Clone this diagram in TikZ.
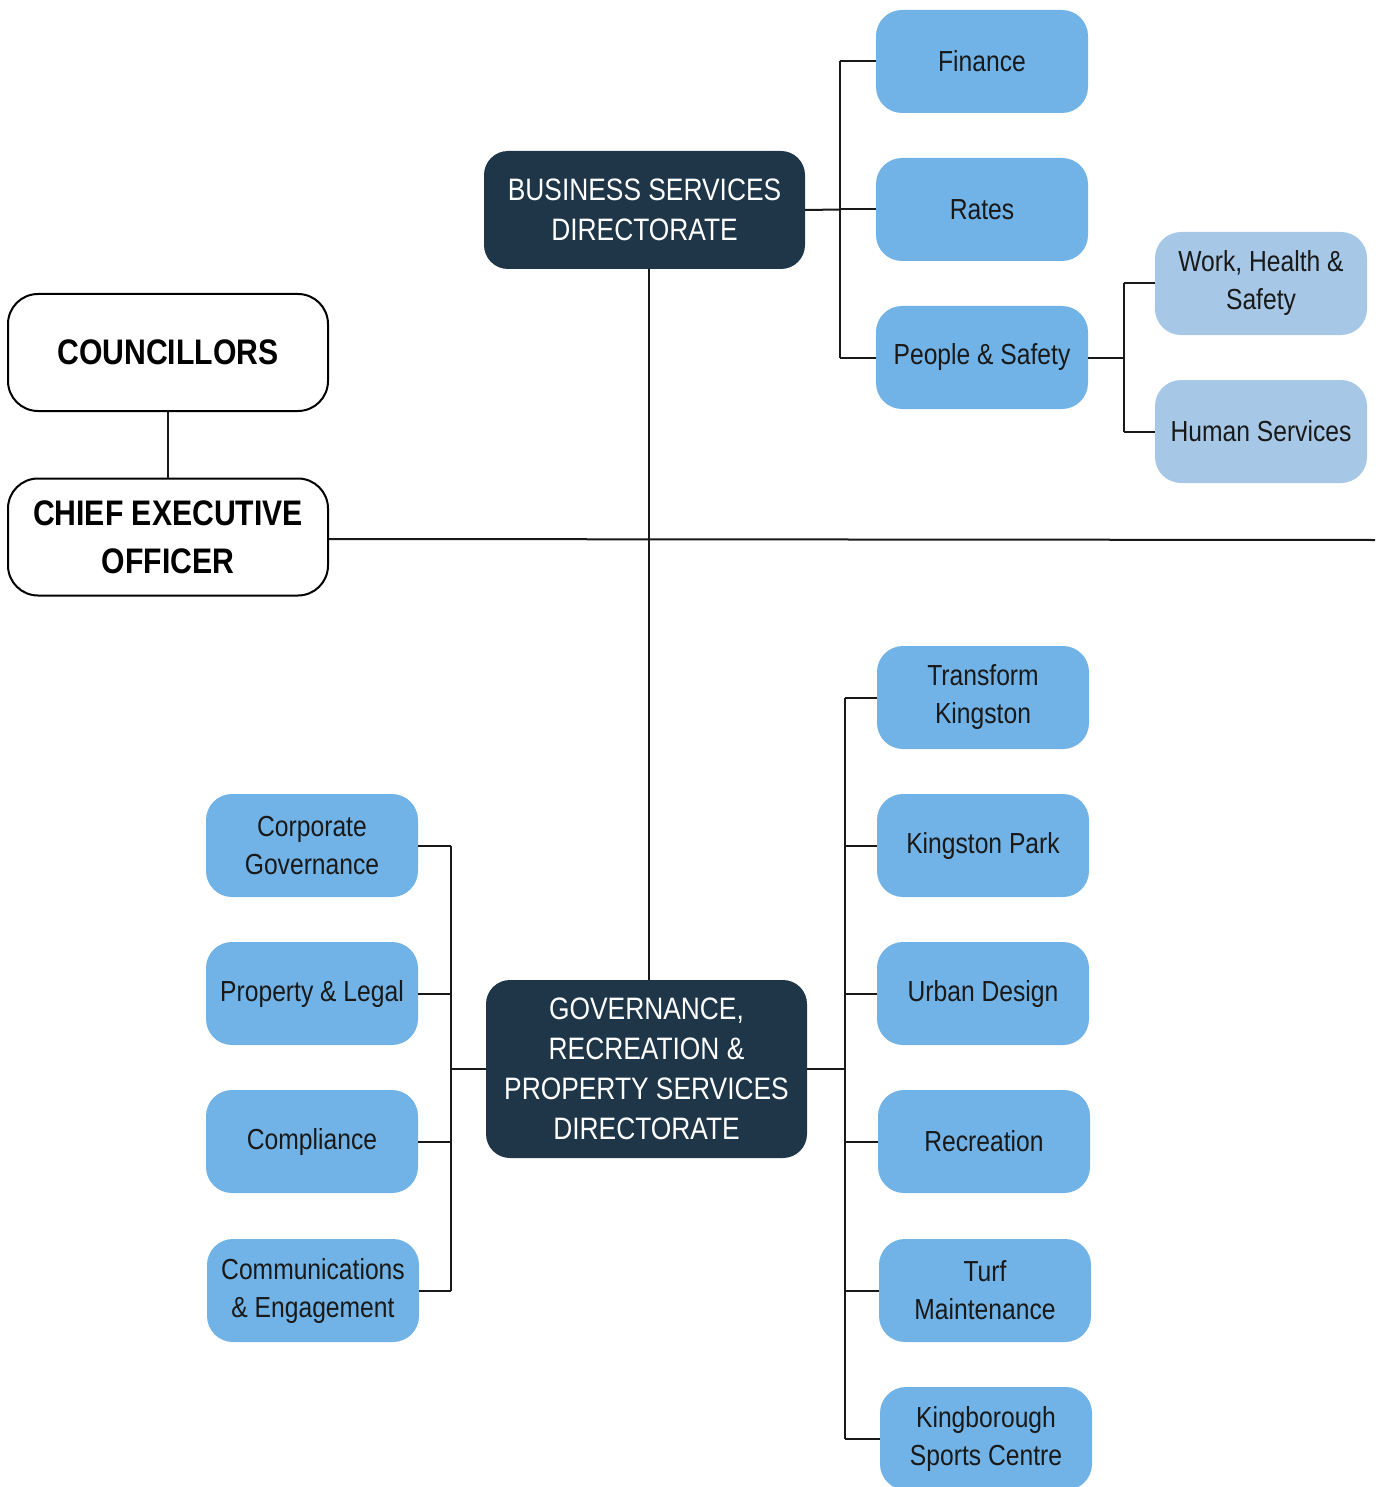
\documentclass[tikz,border=0pt]{standalone}
\usepackage{fontspec}
\setmainfont[FakeStretch=0.85]{Liberation Sans}
\definecolor{bluebox}{RGB}{113,179,230}
\definecolor{lightbox}{RGB}{166,200,230}
\definecolor{darkbox}{RGB}{31,54,73}
\begin{document}
\begin{tikzpicture}[x=1pt,y=-1pt,
  conn/.style={line width=2pt,black!90},
  topbox/.style={draw=black,line width=2pt,fill=white,rounded corners=30pt,minimum width=320pt,minimum height=117pt,inner sep=0pt,align=center,font=\fontsize{35.5}{48}\selectfont\bfseries},
  dirbox/.style={fill=darkbox,text=white,rounded corners=24pt,minimum width=321pt,inner sep=0pt,align=center,font=\fontsize{31}{40}\selectfont},
  unitbox/.style={fill=bluebox,text=black!90,rounded corners=26pt,minimum width=212pt,minimum height=103pt,inner sep=0pt,align=center,font=\fontsize{29}{38}\selectfont},
  subbox/.style={unitbox,fill=lightbox}]
\useasboundingbox (0,0) rectangle (1375,1487);
% top boxes
\node[topbox] (coun) at (168,352.5) {COUNCILLORS};
\node[topbox] (ceo) at (168,537) {CHIEF EXECUTIVE\\OFFICER};
% directorates
\node[dirbox,minimum height=118pt] (biz) at (644.5,210) {BUSINESS SERVICES\\DIRECTORATE};
\node[dirbox,minimum height=178pt] (gov) at (646.5,1069) {GOVERNANCE,\\RECREATION \&\\PROPERTY SERVICES\\DIRECTORATE};
% business units
\node[unitbox] (fin) at (982,61.5) {Finance};
\node[unitbox] (rates) at (982,209.5) {Rates};
\node[unitbox] (ps) at (982,357.5) {People \& Safety};
\node[subbox] (whs) at (1261,283.5) {Work, Health \&\\Safety};
\node[subbox] (hs) at (1261,431.5) {Human Services};
% governance right units
\node[unitbox] (tk) at (983,697.5) {Transform\\Kingston};
\node[unitbox] (kp) at (983,845.5) {Kingston Park};
\node[unitbox] (ud) at (983,993.5) {Urban Design};
\node[unitbox] (rec) at (984,1141.5) {Recreation};
\node[unitbox] (turf) at (985,1290.5) {Turf\\Maintenance};
\node[unitbox] (ksc) at (986,1438.5) {Kingborough\\Sports Centre};
% governance left units
\node[unitbox] (cg) at (312,845.5) {Corporate\\Governance};
\node[unitbox] (pl) at (312,993.5) {Property \& Legal};
\node[unitbox] (comp) at (312,1141.5) {Compliance};
\node[unitbox] (comm) at (313,1290.5) {Communications\\\& Engagement};
% connectors
\draw[conn] (coun.south) -- (ceo.north);
\coordinate (rightend) at (1375,540);
\draw[conn] ([yshift=-2pt]ceo.east) -- (rightend);
\draw[conn] ([xshift=4.5pt]biz.south) -- ([xshift=4.5pt]biz.south |- gov.north);
% business bus
\coordinate (bb) at (840,209.5);
\draw[conn] (biz.east) -- (bb);
\draw[conn] (bb |- fin.west) -- (bb |- ps.west);
\foreach \n in {fin,rates,ps} \draw[conn] (bb |- \n.west) -- (\n.west);
% people & safety bus
\coordinate (pb) at (1124,357.5);
\draw[conn] (ps.east) -- (pb);
\draw[conn] (pb |- whs.west) -- (pb |- hs.west);
\foreach \n in {whs,hs} \draw[conn] (pb |- \n.west) -- (\n.west);
% governance right bus
\coordinate (gr) at (845,1069);
\draw[conn] (gov.east) -- (gr);
\draw[conn] (gr |- tk.west) -- (gr |- ksc.west);
\foreach \n in {tk,kp,ud,rec,turf,ksc} \draw[conn] (gr |- \n.west) -- (\n.west);
% governance left bus
\coordinate (gl) at (451,1069);
\draw[conn] (gov.west) -- (gl);
\draw[conn] (gl |- cg.east) -- (gl |- comm.east);
\foreach \n in {cg,pl,comp,comm} \draw[conn] (gl |- \n.east) -- (\n.east);
\end{tikzpicture}
\end{document}
